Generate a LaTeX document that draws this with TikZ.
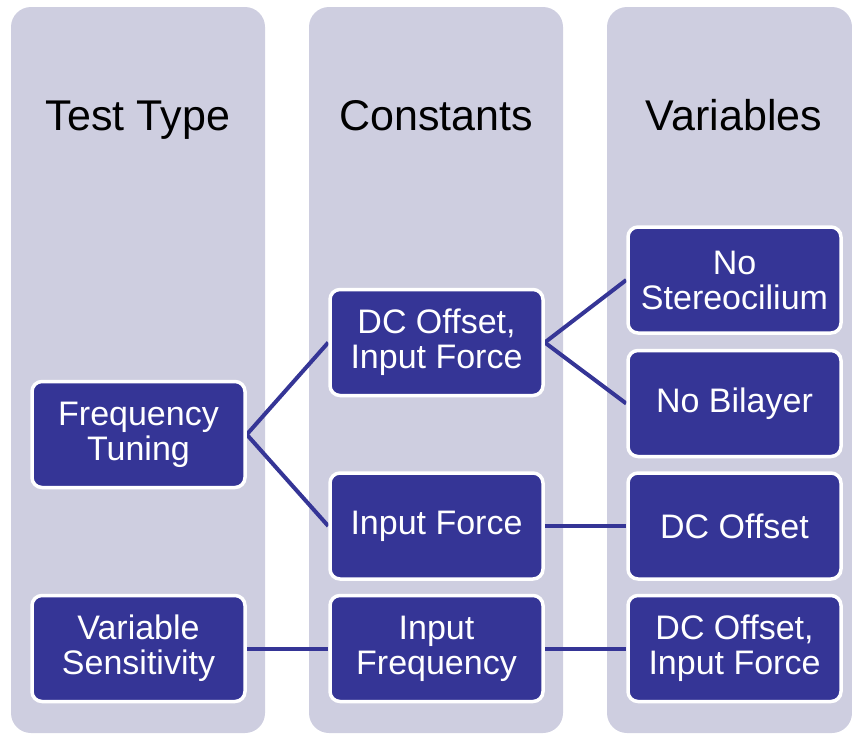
\documentclass[tikz,border=0pt]{standalone}
\usepackage{fontspec}
\setmainfont{Liberation Sans}
\definecolor{colbg}{RGB}{206,206,224}
\definecolor{boxblue}{RGB}{53,53,150}
\pgfdeclarelayer{cols}
\pgfdeclarelayer{links}
\pgfsetlayers{cols,links,main}
\begin{document}
\begin{tikzpicture}[x=1pt,y=-1pt,
  column/.style={fill=colbg, draw=none, rounded corners=20pt},
  header/.style={font=\fontsize{43}{46}\selectfont, text=black, inner sep=0pt, anchor=base},
  item/.style={fill=boxblue, draw=white, line width=3.5pt, rounded corners=10pt,
    minimum width=213pt, minimum height=106pt, inner sep=0pt, text=white,
    align=center, font=\fontsize{34}{35}\selectfont},
  link/.style={draw=boxblue, line width=4pt}]
\useasboundingbox (0,0) rectangle (852,734);

% boxes
\node[item] (ft)   at (138.5,434.5) {Frequency\\Tuning};
\node[item] (vs)   at (138.5,648.5) {Variable\\Sensitivity};
\node[item] (dcif) at (436.5,342.5) {DC Offset,\\Input Force};
\node[item] (inf)  at (436.5,526)   {Input Force};
\node[item] (ifq)  at (436.5,648.5) {Input\\Frequency};
\node[item] (ns)   at (734.5,280)   {No\\Stereocilium};
\node[item] (nb)   at (734.5,403.5) {No Bilayer};
\node[item] (dco)  at (734.5,526)   {DC Offset};
\node[item] (dcf)  at (734.5,648.5) {DC Offset,\\Input Force};

% headers
\node[header] (h1) at (138,130) {Test Type};
\node[header] (h2) at (436,130) {Constants};
\node[header] (h3) at (734,130) {Variables};

\begin{pgfonlayer}{cols}
  \path[column] (11,7) rectangle (265,733);
  \path[column] (309,7) rectangle (563,733);
  \path[column] (607,7) rectangle (852,733);
\end{pgfonlayer}

\begin{pgfonlayer}{links}
  \draw[link] (ft.east) -- (dcif.west);
  \draw[link] (ft.east) -- (inf.west);
  \draw[link] (dcif.east) -- (ns.west);
  \draw[link] (dcif.east) -- (nb.west);
  \draw[link] (inf.east) -- (dco.west);
  \draw[link] (vs.east) -- (ifq.west);
  \draw[link] (ifq.east) -- (dcf.west);
\end{pgfonlayer}
\end{tikzpicture}
\end{document}
